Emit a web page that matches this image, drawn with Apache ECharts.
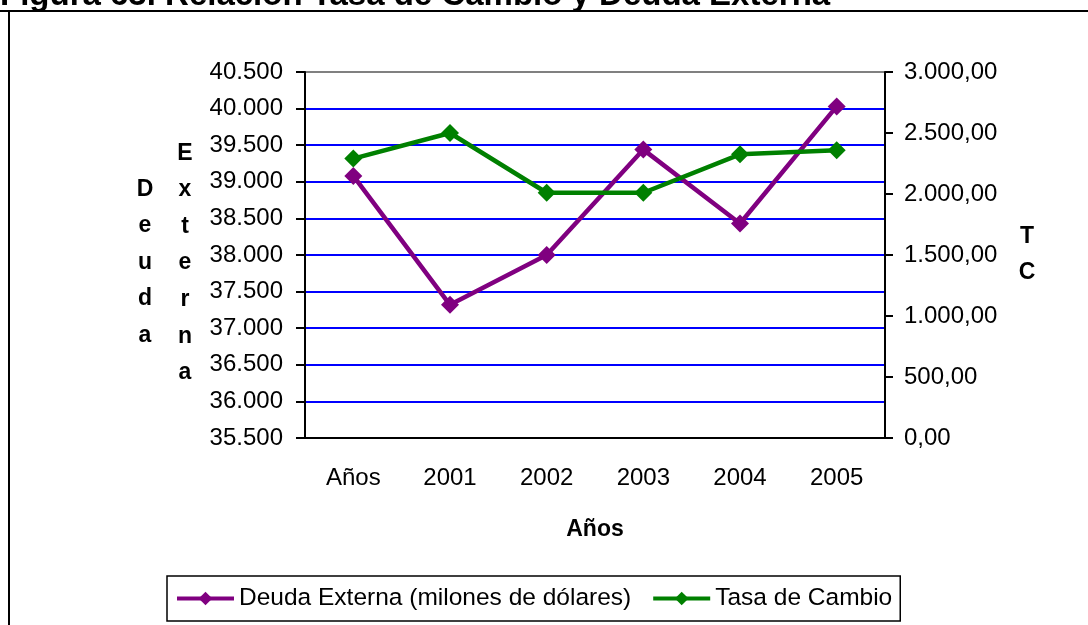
<!DOCTYPE html>
<html>
<head>
<meta charset="utf-8">
<script src="https://cdn.jsdelivr.net/npm/echarts@6/dist/echarts.min.js"></script>
<style>
  html, body { margin: 0; padding: 0; background: #fff; }
  #main { width: 1088px; height: 625px; }
</style>
</head>
<body>
<div id="main"></div>
<script>
// datos
const years = ['Años', '2001', '2002', '2003', '2004', '2005']
const deudaExterna = [39080, 37320, 38000, 39440, 38430, 40030]
const tasaCambio = [2290, 2500, 2010, 2010, 2325, 2358]

const font = 'Liberation Sans, Arial, sans-serif'

// 40500 -> "40.500"
function miles (v) {
  return String(Math.round(v)).replace(/\B(?=(\d{3})+(?!\d))/g, '.')
}
// 3000 -> "3.000,00"
function milesDec (v) {
  const parts = v.toFixed(2).split('.')
  return miles(Number(parts[0])) + ',' + parts[1]
}

const chart = echarts.init(document.getElementById('main'))

const gridColors = ['#000000']
for (let i = 0; i < 9; i++) gridColors.push('#0000ff')
gridColors.push('#808080')

const option = {
  backgroundColor: '#ffffff',
  animation: false,
  textStyle: { fontFamily: font, color: '#000' },
  grid: { left: 305, right: 203, top: 72, bottom: 187, containLabel: false },
  legend: {
    left: 167,
    top: 576,
    padding: [10, 8, 10, 8],
    itemGap: 20,
    itemWidth: 57,
    itemHeight: 17,
    borderColor: '#000',
    borderWidth: 1.5,
    lineStyle: { width: 4 },
    textStyle: { fontSize: 24.5, color: '#000', fontFamily: font },
    data: ['Deuda Externa (milones de dólares)', 'Tasa de Cambio']
  },
  xAxis: {
    type: 'category',
    data: years,
    boundaryGap: true,
    name: 'Años',
    nameLocation: 'middle',
    nameGap: 80,
    nameTextStyle: { fontSize: 23, fontWeight: 'bold', color: '#000' },
    axisLine: { lineStyle: { color: '#000', width: 2 } },
    axisTick: { length: 8, lineStyle: { color: '#000', width: 2 } },
    axisLabel: { fontSize: 24, color: '#000', margin: 28 }
  },
  yAxis: [
    {
      type: 'value',
      min: 35500,
      max: 40500,
      interval: 500,
      axisLine: { show: true, lineStyle: { color: '#000', width: 2 } },
      axisTick: { show: true, length: 9, lineStyle: { color: '#000', width: 2 } },
      axisLabel: { fontSize: 24, color: '#000', margin: 22, formatter: miles },
      splitLine: { show: true, lineStyle: { color: gridColors, width: 2 } }
    },
    {
      type: 'value',
      min: 0,
      max: 3000,
      interval: 500,
      position: 'right',
      axisLine: { show: true, lineStyle: { color: '#000', width: 2 } },
      axisTick: { show: true, length: 8, lineStyle: { color: '#000', width: 2 } },
      axisLabel: { fontSize: 24, color: '#000', margin: 19, formatter: milesDec },
      splitLine: { show: false }
    }
  ],
  series: [
    {
      name: 'Deuda Externa (milones de dólares)',
      type: 'line',
      yAxisIndex: 0,
      data: deudaExterna,
      symbol: 'diamond',
      symbolSize: 18,
      lineStyle: { color: '#800080', width: 4.5 },
      itemStyle: { color: '#800080' }
    },
    {
      name: 'Tasa de Cambio',
      type: 'line',
      yAxisIndex: 1,
      data: tasaCambio,
      symbol: 'diamond',
      symbolSize: 18,
      lineStyle: { color: '#008000', width: 4.5 },
      itemStyle: { color: '#008000' }
    }
  ],
  graphic: [
    {
      type: 'text',
      left: 0,
      top: -21,
      style: {
        text: 'Figura 63. Relación Tasa de Cambio y Deuda Externa',
        font: 'bold 33px ' + font,
        fill: '#000'
      }
    },
    { type: 'line', shape: { x1: 0, y1: 11, x2: 1088, y2: 11 }, style: { stroke: '#000', lineWidth: 2 } },
    { type: 'line', shape: { x1: 9, y1: 11, x2: 9, y2: 625 }, style: { stroke: '#000', lineWidth: 2 } },
    {
      type: 'text',
      x: 145,
      y: 171,
      style: {
        text: 'D\ne\nu\nd\na',
        font: 'bold 23px ' + font,
        lineHeight: 36.6,
        align: 'center',
        fill: '#000'
      }
    },
    {
      type: 'text',
      x: 185,
      y: 135,
      style: {
        text: 'E\nx\nt\ne\nr\nn\na',
        font: 'bold 23px ' + font,
        lineHeight: 36.6,
        align: 'center',
        fill: '#000'
      }
    },
    {
      type: 'text',
      x: 1027,
      y: 219,
      style: {
        text: 'T\nC',
        font: 'bold 23px ' + font,
        lineHeight: 36,
        align: 'center',
        fill: '#000'
      }
    }
  ]
}
option && chart.setOption(option)
</script>
</body>
</html>
